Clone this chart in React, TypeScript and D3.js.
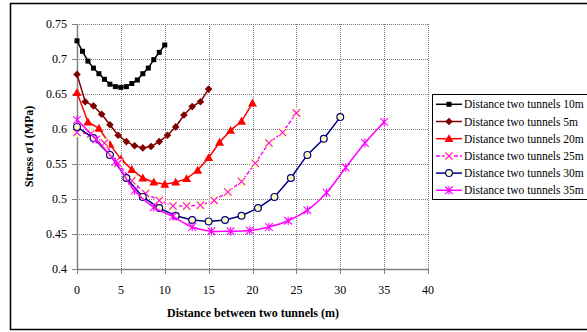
import React from 'react';
import * as d3 from 'd3';

const xTicks = [0, 5, 10, 15, 20, 25, 30, 35, 40];
const yTicks = [0.4, 0.45, 0.5, 0.55, 0.6, 0.65, 0.7, 0.75];
const yTickLabels = ['0.4', '0.45', '0.5', '0.55', '0.6', '0.65', '0.7', '0.75'];

const seriesNames = [
  'Distance two tunnels 10m',
  'Distance two tunnels 5m',
  'Distance two tunnels 20m',
  'Distance two tunnels 25m',
  'Distance two tunnels 30m',
  'Distance two tunnels 35m',
];

const x10 = [0, 0.625, 1.25, 1.875, 2.5, 3.125, 3.75, 4.375, 5, 5.625, 6.25, 6.875, 7.5, 8.125, 8.75, 9.375, 10];
const y10 = [0.726, 0.711, 0.697, 0.687, 0.679, 0.671, 0.664, 0.6605, 0.6595, 0.6605, 0.665, 0.67, 0.679, 0.687, 0.699, 0.7095, 0.72];

const x5 = [0, 0.9375, 1.875, 2.8125, 3.75, 4.6875, 5.625, 6.5625, 7.5, 8.4375, 9.375, 10.3125, 11.25, 12.1875, 13.125, 14.0625, 15];
const y5 = [0.678, 0.639, 0.633, 0.621, 0.606, 0.591, 0.582, 0.576, 0.573, 0.575, 0.582, 0.591, 0.603, 0.62, 0.632, 0.639, 0.657];

const x20 = [0, 1.25, 2.5, 3.75, 5, 6.25, 7.5, 8.75, 10, 11.25, 12.5, 13.75, 15, 16.25, 17.5, 18.75, 20];
const y20 = [0.652, 0.61, 0.601, 0.578, 0.557, 0.542, 0.53, 0.524, 0.521, 0.524, 0.529, 0.541, 0.559, 0.581, 0.598, 0.611, 0.637];

const x25 = [0, 1.5625, 3.125, 4.6875, 6.25, 7.8125, 9.375, 10.9375, 12.5, 14.0625, 15.625, 17.1875, 18.75, 20.3125, 21.875, 23.4375, 25];
const y25 = [0.595, 0.593, 0.58, 0.551, 0.526, 0.508, 0.498, 0.49, 0.49, 0.491, 0.498, 0.51, 0.525, 0.551, 0.58, 0.595, 0.623];

const x30 = [0, 1.875, 3.75, 5.625, 7.5, 9.375, 11.25, 13.125, 15, 16.875, 18.75, 20.625, 22.5, 24.375, 26.25, 28.125, 30];
const y30 = [0.603, 0.587, 0.563, 0.53, 0.503, 0.487, 0.476, 0.47, 0.468, 0.47, 0.476, 0.487, 0.503, 0.53, 0.563, 0.586, 0.617];

const x35 = [0, 2.1875, 4.375, 6.5625, 8.75, 10.9375, 13.125, 15.3125, 17.5, 19.6875, 21.875, 24.0625, 26.25, 28.4375, 30.625, 32.8125, 35];
const y35 = [0.613, 0.585, 0.553, 0.512, 0.488, 0.475, 0.46, 0.454, 0.454, 0.455, 0.46, 0.469, 0.484, 0.509, 0.545, 0.58, 0.61];

const seriesX = [x10, x5, x20, x25, x30, x35];
const seriesY = [y10, y5, y20, y25, y30, y35];
const colors = ['#000000', '#800000', '#FF0000', '#FF00FF', '#000080', '#FF00FF'];
const markers = ['square', 'diamond', 'triangle', 'x', 'circle', 'star'];
const dashes = [null, null, null, '4,2', null, null];
const smooth = [false, false, false, false, false, true];

const W = 587;
const H = 332;
const plotL = 77;
const plotR = 428;
const plotT = 24;
const plotB = 269;

const FONT = "'Times New Roman', 'Liberation Serif', 'DejaVu Serif', serif";

function Marker({ type, color, cx, cy }: { type: string; color: string; cx: number; cy: number }) {
  if (type === 'square') {
    return <rect x={cx - 2.5} y={cy - 2.5} width={5} height={5} fill={color} />;
  }
  if (type === 'diamond') {
    const r = 3.8;
    return <path d={`M${cx},${cy - r}L${cx + r},${cy}L${cx},${cy + r}L${cx - r},${cy}Z`} fill={color} />;
  }
  if (type === 'triangle') {
    const r = 4.5;
    return <path d={`M${cx},${cy - r}L${cx + r},${cy + r * 0.75}L${cx - r},${cy + r * 0.75}Z`} fill={color} />;
  }
  if (type === 'x') {
    const r = 3.6;
    return (
      <g>
        <rect x={cx - 4.5} y={cy - 4.5} width={9} height={9} fill="#FFFFC0" />
        <path d={`M${cx - r},${cy - r}L${cx + r},${cy + r}M${cx - r},${cy + r}L${cx + r},${cy - r}`} stroke={color} strokeWidth={1.1} />
      </g>
    );
  }
  if (type === 'circle') {
    return <circle cx={cx} cy={cy} r={3.4} fill="#FFFFC0" stroke={color} strokeWidth={1.2} />;
  }
  const r = 3.8;
  return (
    <path
      d={`M${cx - r},${cy - r}L${cx + r},${cy + r}M${cx - r},${cy + r}L${cx + r},${cy - r}M${cx},${cy - r - 0.5}L${cx},${cy + r + 0.5}`}
      stroke={color}
      strokeWidth={1.1}
    />
  );
}

export default function App() {
  const x = d3.scaleLinear().domain([0, 40]).range([plotL, plotR]);
  const y = d3.scaleLinear().domain([0.4, 0.75]).range([plotB, plotT]);
  const px = (v: number) => Math.round(x(v)) + 0.5;
  const py = (v: number) => Math.round(y(v)) + 0.5;

  const legendX = 432;
  const legendY = 94;
  const legendStep = 17.2;

  return (
    <svg width={W} height={H} style={{ position: 'absolute', left: 0, top: 0, fontFamily: FONT }}>
      <rect x={0} y={0} width={W} height={H} fill="#ffffff" />
      <rect x={10.5} y={3.5} width={600} height={326} fill="none" stroke="#000" strokeWidth={1.5} />

      {yTicks.map((t, i) =>
        i === 0 ? null : (
          <line key={'gy' + i} x1={plotL} x2={plotR} y1={py(t)} y2={py(t)} stroke="#777" strokeWidth={1} strokeDasharray="1,1" />
        )
      )}
      {xTicks.map((t, i) =>
        i === 0 ? null : (
          <line key={'gx' + i} x1={px(t)} x2={px(t)} y1={plotT} y2={plotB} stroke="#777" strokeWidth={1} strokeDasharray="1,1" />
        )
      )}

      <line x1={px(0)} x2={px(0)} y1={plotT} y2={plotB} stroke="#808080" strokeWidth={1.5} />
      <line x1={plotL} x2={plotR} y1={py(0.4)} y2={py(0.4)} stroke="#808080" strokeWidth={1.5} />
      {yTicks.map((t, i) => (
        <g key={'yt' + i}>
          <line x1={plotL - 5} x2={plotL} y1={py(t)} y2={py(t)} stroke="#808080" strokeWidth={1} />
          <text x={67} y={y(t)} dy="0.35em" textAnchor="end" fontSize={12} fill="#000" style={{ fontFamily: FONT }}>
            {yTickLabels[i]}
          </text>
        </g>
      ))}
      {xTicks.map((t, i) => (
        <g key={'xt' + i}>
          <line x1={px(t)} x2={px(t)} y1={plotB} y2={plotB + 5} stroke="#808080" strokeWidth={1} />
          <text x={x(t)} y={294} textAnchor="middle" fontSize={12} fill="#000" style={{ fontFamily: FONT }}>
            {t}
          </text>
        </g>
      ))}

      <text x={253} y={317} textAnchor="middle" fontSize={12} fontWeight="bold" fill="#000" style={{ fontFamily: FONT }}>
        Distance between two tunnels (m)
      </text>
      <text
        transform={`translate(33,${(plotT + plotB) / 2}) rotate(-90)`}
        textAnchor="middle"
        fontSize={12}
        fontWeight="bold"
        fill="#000"
        style={{ fontFamily: FONT }}
      >
        Stress σ1 (MPa)
      </text>

      {seriesX.map((xs, si) => {
        const pts: [number, number][] = xs.map((v, k) => [x(v), y(seriesY[si][k])]);
        const line = d3
          .line<[number, number]>()
          .x((d) => d[0])
          .y((d) => d[1])
          .curve(smooth[si] ? d3.curveCatmullRom.alpha(0.5) : d3.curveLinear);
        return (
          <g key={'s' + si}>
            <path
              d={line(pts) || ''}
              fill="none"
              stroke={colors[si]}
              strokeWidth={1.5}
              strokeDasharray={dashes[si] || undefined}
            />
            {pts.map((p, k) => (
              <Marker key={k} type={markers[si]} color={colors[si]} cx={p[0]} cy={p[1]} />
            ))}
          </g>
        );
      })}

      <rect x={legendX + 0.5} y={legendY + 0.5} width={200} height={105} fill="#fff" stroke="#000" strokeWidth={1} />
      {seriesNames.map((name, i) => {
        const cy = legendY + 10.3 + i * legendStep;
        return (
          <g key={'lg' + i}>
            <line
              x1={436}
              x2={462}
              y1={cy}
              y2={cy}
              stroke={colors[i]}
              strokeWidth={1.5}
              strokeDasharray={dashes[i] || undefined}
            />
            <Marker type={markers[i]} color={colors[i]} cx={449} cy={cy} />
            <text x={464} y={cy} dy="0.35em" fontSize={11.5} fill="#000" style={{ fontFamily: FONT }}>
              {name}
            </text>
          </g>
        );
      })}
    </svg>
  );
}
